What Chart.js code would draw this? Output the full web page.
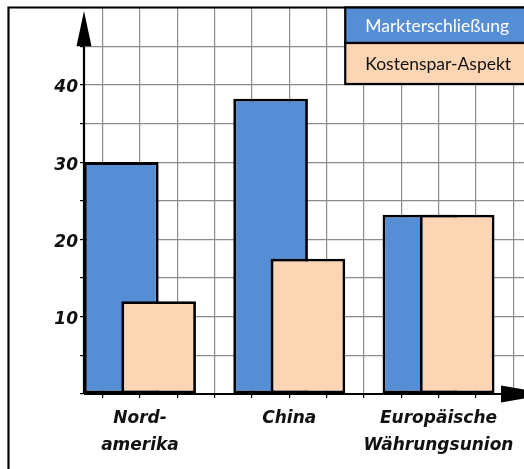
<!DOCTYPE html>
<html>
<head>
<meta charset="utf-8">
<script src="https://cdn.jsdelivr.net/npm/chart.js@4.4.1/dist/chart.umd.min.js"></script>
<style>
html, body { margin: 0; padding: 0; background: #fff; }
#wrap { width: 524px; height: 469px; }
</style>
</head>
<body>
<div id="wrap"><canvas id="chart" width="524" height="469"></canvas></div>
<script>
const categories = [["Nord-", "amerika"], "China", ["Europäische", "Währungsunion"]];
const seriesNames = ["Markterschließung", "Kostenspar-Aspekt"];
const markterschliessung = [30, 38.2, 23.2];
const kostenspar = [12, 17.5, 23.2];
const yTickLabels = [10, 20, 30, 40];

const blue = "#558ed5";
const peach = "#fcd5b5";
const CELL = 4; // grid cells per category group

const labelFont = { family: "DejaVu Sans", size: 17, weight: "bold", style: "italic", lineHeight: 1.6 };

// frame, axis arrows and the table-like legend
const decor = {
    id: "decor",
    afterDatasetsDraw(chart) {
        const { ctx, scales: { x, y } } = chart;
        const x0 = x.getPixelForValue(0);
        const y0 = y.getPixelForValue(0);
        ctx.save();
        ctx.strokeStyle = "#000";
        ctx.fillStyle = "#000";
        ctx.lineWidth = 2.2;

        // outer frame (left + top only visible)
        ctx.beginPath();
        ctx.moveTo(8.5, chart.height);
        ctx.lineTo(8.5, 7.5);
        ctx.lineTo(chart.width, 7.5);
        ctx.stroke();

        // y axis with arrow
        const yBase = y.getPixelForValue(45);
        ctx.beginPath();
        ctx.moveTo(x0, y0);
        ctx.lineTo(x0, yBase);
        ctx.stroke();
        ctx.beginPath();
        ctx.moveTo(x0 - 7.5, yBase);
        ctx.lineTo(x0 + 7.5, yBase);
        ctx.lineTo(x0, 11);
        ctx.closePath();
        ctx.fill();

        // x axis with arrow
        const xBase = chart.width - 23;
        ctx.beginPath();
        ctx.moveTo(x0, y0);
        ctx.lineTo(xBase, y0);
        ctx.stroke();
        ctx.beginPath();
        ctx.moveTo(xBase, y0 - 8.5);
        ctx.lineTo(xBase, y0 + 8.5);
        ctx.lineTo(xBase + 48, y0);
        ctx.closePath();
        ctx.fill();

        // legend
        const lx = x.getPixelForValue(7);
        const rows = [[7.5, 43], [43, 84]];
        chart.data.datasets.forEach((ds, i) => {
            const [t, b] = rows[i];
            ctx.fillStyle = ds.backgroundColor;
            ctx.fillRect(lx, t, chart.width + 10 - lx, b - t);
            ctx.lineWidth = 2.2;
            ctx.strokeRect(lx, t, chart.width + 10 - lx, b - t);
            ctx.fillStyle = i === 0 ? "#fff" : "#111";
            ctx.font = "17.5px Lato";
            ctx.textBaseline = "middle";
            ctx.textAlign = "left";
            ctx.fillText(ds.label, lx + 20, (t + b) / 2 + 1);
        });
        ctx.restore();
    }
};

new Chart(document.getElementById("chart"), {
    type: "bar",
    data: {
        datasets: [
            {
                label: seriesNames[0],
                data: markterschliessung.map((v, i) => ({ x: i * CELL + 1, y: v })),
                backgroundColor: blue,
                order: 1
            },
            {
                label: seriesNames[1],
                data: kostenspar.map((v, i) => ({ x: i * CELL + 2, y: v })),
                backgroundColor: peach,
                order: 0
            }
        ]
    },
    options: {
        responsive: false,
        animation: false,
        layout: { padding: { top: 7.5, right: 0, bottom: 0, left: 0 } },
        datasets: {
            bar: {
                grouped: false,
                categoryPercentage: 2,
                barPercentage: 1,
                borderColor: "#000",
                borderWidth: 2.8,
                borderSkipped: false
            }
        },
        plugins: {
            legend: { display: false },
            tooltip: { enabled: false }
        },
        scales: {
            x: {
                type: "linear",
                min: 0,
                max: 11.79,
                offset: false,
                afterBuildTicks: s => {
                    s.ticks = [];
                    for (let v = 0; v <= 11; v++) s.ticks.push({ value: v });
                },
                afterFit: s => {
                    s.height = 75;
                    s.paddingLeft = 0;
                    s.paddingRight = 0;
                },
                border: { display: false },
                grid: { color: "#8c8c8c", lineWidth: 1.2, tickColor: "#000", tickLength: 4 },
                ticks: {
                    autoSkip: false,
                    maxRotation: 0,
                    labelOffset: 18.66,
                    padding: 7,
                    color: "#111",
                    font: labelFont,
                    callback: v => (v % CELL === 1 ? categories[(v - 1) / CELL] : "")
                }
            },
            y: {
                min: 0,
                max: 50,
                afterBuildTicks: s => {
                    s.ticks = [];
                    for (let v = 0; v <= 50; v += 5) s.ticks.push({ value: v });
                },
                afterFit: s => {
                    s.width = 84;
                    s.paddingTop = 0;
                    s.paddingBottom = 0;
                },
                border: { display: false },
                grid: { color: "#8c8c8c", lineWidth: 1.2, tickColor: "#000", tickLength: 4 },
                ticks: {
                    padding: 2,
                    labelOffset: 3,
                    color: "#111",
                    font: labelFont,
                    callback: v => (yTickLabels.includes(v) ? String(v) : "")
                }
            }
        }
    },
    plugins: [decor]
});
</script>
</body>
</html>
